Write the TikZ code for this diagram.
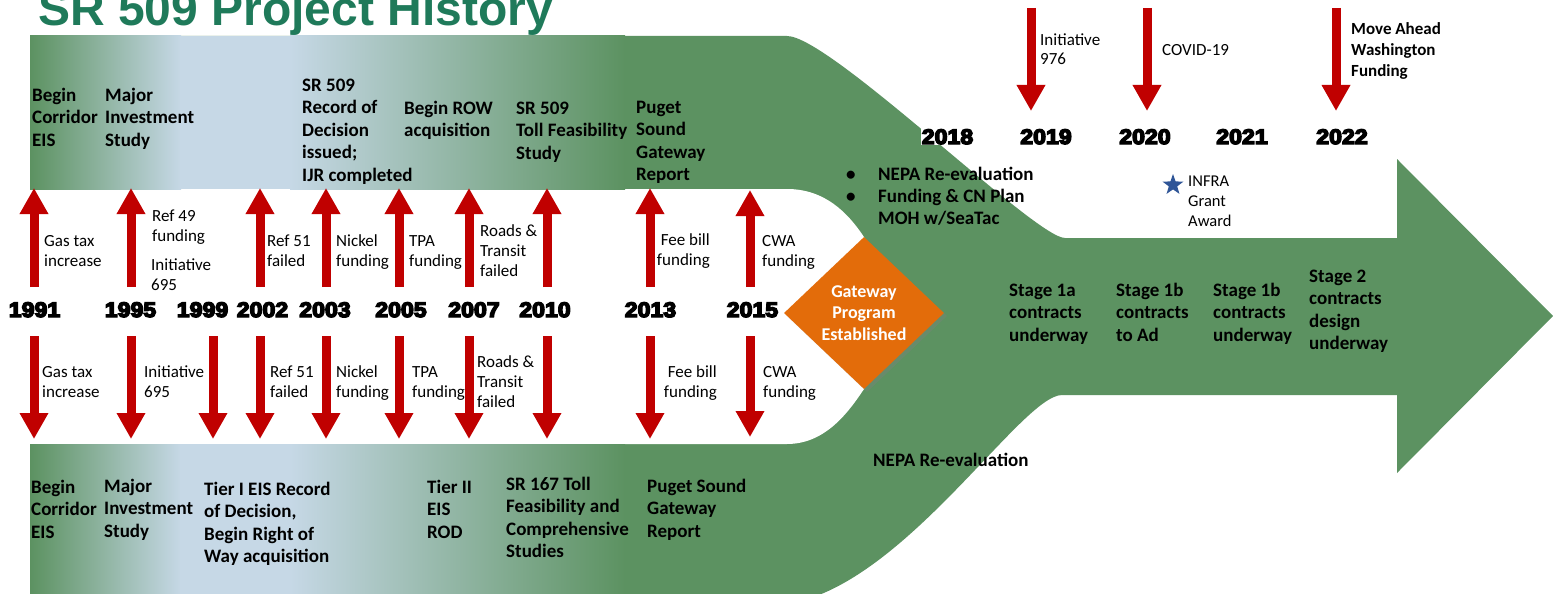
\documentclass[tikz,border=0pt]{standalone}
\usepackage{fontspec}
\setmainfont{Carlito}
\newfontfamily\titlefont{Liberation Sans}
\newfontfamily\yearfont[FakeBold=7,FakeStretch=1.1]{Liberation Sans Bold}
\usetikzlibrary{arrows.meta,shapes.geometric,shadows}
\definecolor{bandgreen}{RGB}{92,146,97}
\definecolor{paleblue}{RGB}{198,216,230}
\definecolor{arrowred}{RGB}{192,0,0}
\definecolor{gworange}{RGB}{227,108,10}
\definecolor{starblue}{RGB}{47,85,151}
\definecolor{titlegreen}{RGB}{31,122,90}
\begin{document}
\begin{tikzpicture}[x=1pt,y=-1pt,
  band/.style={anchor=base west, align=left, inner sep=0pt, font=\fontsize{19}{22.5}\selectfont\bfseries},
  lbl/.style={anchor=base west, align=left, inner sep=0pt, font=\fontsize{17}{20}\selectfont},
  yr/.style={anchor=base, fill=white, inner sep=1pt, font=\yearfont\fontsize{21}{24}\selectfont},
  redarr/.style={draw=arrowred, line width=9pt, -{Triangle[length=26pt,width=27pt]}}]
\clip (0,0) rectangle (1553,594);
\fill[white] (0,0) rectangle (1553,594);
\fill[bandgreen] (30,36) -- (787,36) .. controls (830,36) and (1035,238) .. (1065,238) -- (1397,238) -- (1397,159) -- (1553,316) -- (1397,473) -- (1397,395) -- (1062,395) .. controls (1020,395) and (895,600) .. (775,605) -- (30,605) -- cycle;
\fill[white] (30,189) -- (787,189) .. controls (825,189) and (848,213) .. (864,237) -- (900,313) -- (864,389) .. controls (848,413) and (825,444) .. (787,444) -- (30,444) -- cycle;
\shade[left color=bandgreen, right color=paleblue] (30,36) rectangle (181,189);
\fill[paleblue] (180,36) rectangle (291,189);
\shade[left color=paleblue, right color=bandgreen] (290,36) rectangle (625,189);
\shade[left color=bandgreen, right color=paleblue] (30,444) rectangle (181,605);
\fill[paleblue] (180,444) rectangle (291,605);
\shade[left color=paleblue, right color=bandgreen] (290,444) rectangle (625,605);
\node[anchor=base west, inner sep=0pt, text=titlegreen, font=\titlefont\bfseries\fontsize{48}{50}\selectfont] (title) at (38,26) {SR 509 Project History};
\node[diamond, fill=gworange, minimum width=160pt, minimum height=152pt, inner sep=0pt, align=center, text=white, font=\fontsize{18}{21.5}\selectfont\bfseries, drop shadow={shadow xshift=3pt, shadow yshift=-3pt, opacity=0.35}] (gw) at (864,313) {Gateway\\Program\\Established};
\coordinate (u1) at (34,287); \coordinate (u1h) at (34,188);
\coordinate (u2) at (131,287); \coordinate (u2h) at (131,188);
\coordinate (u3) at (260,287); \coordinate (u3h) at (260,188);
\coordinate (u4) at (326,287); \coordinate (u4h) at (326,188);
\coordinate (u5) at (399,287); \coordinate (u5h) at (399,188);
\coordinate (u6) at (469,287); \coordinate (u6h) at (469,188);
\coordinate (u7) at (547,287); \coordinate (u7h) at (547,188);
\coordinate (u8) at (650,287); \coordinate (u8h) at (650,188);
\coordinate (u9) at (750,287); \coordinate (u9h) at (750,190);
\draw[redarr] (u1) -- (u1h);
\draw[redarr] (u2) -- (u2h);
\draw[redarr] (u3) -- (u3h);
\draw[redarr] (u4) -- (u4h);
\draw[redarr] (u5) -- (u5h);
\draw[redarr] (u6) -- (u6h);
\draw[redarr] (u7) -- (u7h);
\draw[redarr] (u8) -- (u8h);
\draw[redarr] (u9) -- (u9h);
\coordinate (d1) at (34,336); \coordinate (d1h) at (34,439);
\coordinate (d2) at (131,336); \coordinate (d2h) at (131,439);
\coordinate (d3) at (213,336); \coordinate (d3h) at (213,439);
\coordinate (d4) at (260,336); \coordinate (d4h) at (260,439);
\coordinate (d5) at (326,336); \coordinate (d5h) at (326,439);
\coordinate (d6) at (399,336); \coordinate (d6h) at (399,439);
\coordinate (d7) at (469,336); \coordinate (d7h) at (469,439);
\coordinate (d8) at (547,336); \coordinate (d8h) at (547,439);
\coordinate (d9) at (650,336); \coordinate (d9h) at (650,439);
\coordinate (d10) at (750,336); \coordinate (d10h) at (750,437);
\draw[redarr] (d1) -- (d1h);
\draw[redarr] (d2) -- (d2h);
\draw[redarr] (d3) -- (d3h);
\draw[redarr] (d4) -- (d4h);
\draw[redarr] (d5) -- (d5h);
\draw[redarr] (d6) -- (d6h);
\draw[redarr] (d7) -- (d7h);
\draw[redarr] (d8) -- (d8h);
\draw[redarr] (d9) -- (d9h);
\draw[redarr] (d10) -- (d10h);
\coordinate (t1) at (1031,8); \coordinate (t1h) at (1031,111);
\coordinate (t2) at (1147,8); \coordinate (t2h) at (1147,111);
\coordinate (t3) at (1336,8); \coordinate (t3h) at (1336,111);
\draw[redarr] (t1) -- (t1h);
\draw[redarr] (t2) -- (t2h);
\draw[redarr] (t3) -- (t3h);
\node[yr] (y1991) at (34.5,317) {1991};
\node[yr] (y1995) at (130.5,317) {1995};
\node[yr] (y1999) at (202.5,317) {1999};
\node[yr] (y2002) at (262.5,317) {2002};
\node[yr] (y2003) at (325,317) {2003};
\node[yr] (y2005) at (401,317) {2005};
\node[yr] (y2007) at (474,317) {2007};
\node[yr] (y2010) at (545,317) {2010};
\node[yr] (y2013) at (650.5,317) {2013};
\node[yr] (y2015) at (752.5,317) {2015};
\node[yr] (y2018) at (947.5,144) {2018};
\node[yr] (y2019) at (1046,144) {2019};
\node[yr] (y2020) at (1145,144) {2020};
\node[yr] (y2021) at (1242,144) {2021};
\node[yr] (y2022) at (1342,144) {2022};
\node[band] (ub1) at (32,146) {Begin\\Corridor\\EIS};
\node[band] (ub2) at (105,146) {Major\\Investment\\Study};
\node[band] (ub3) at (302,181) {SR 509\\Record of\\Decision\\issued;\\IJR completed};
\node[band] (ub4) at (404,136.5) {Begin ROW\\acquisition};
\node[band] (ub5) at (516,159) {SR 509\\Toll Feasibility\\Study};
\node[band] (ub6) at (636,180.5) {Puget\\Sound\\Gateway\\Report};
\node[band] (lb1) at (31,538) {Begin\\Corridor\\EIS};
\node[band] (lb2) at (104,537) {Major\\Investment\\Study};
\node[band] (lb3) at (204,562.5) {Tier I EIS Record\\of Decision,\\Begin Right of\\Way acquisition};
\node[band] (lb4) at (427,538) {Tier II\\EIS\\ROD};
\node[band] (lb5) at (506,557.5) {SR 167 Toll\\Feasibility and\\Comprehensive\\Studies};
\node[band] (lb6) at (647,537) {Puget Sound\\Gateway\\Report};
\node[band] (lb7) at (873,466) {NEPA Re-evaluation};
\node[band] (bu1) at (846,180) {•};
\node[band] (rb1) at (878,180) {NEPA Re-evaluation};
\node[band] (bu2) at (846,202) {•};
\node[band] (rb2) at (878,224.5) {Funding \& CN Plan\\MOH w/SeaTac};
\node[band] (s1) at (1009,341) {Stage 1a\\contracts\\underway};
\node[band] (s2) at (1116,341) {Stage 1b\\contracts\\to Ad};
\node[band] (s3) at (1213,341) {Stage 1b\\contracts\\underway};
\node[band] (s4) at (1309,349.5) {Stage 2\\contracts\\design\\underway};
\node[lbl] (ul1) at (44,266) {Gas tax\\increase};
\node[lbl] (ul2) at (152,241) {Ref 49\\funding};
\node[lbl] (ul3) at (151,290) {Initiative\\695};
\node[lbl] (ul4) at (267,266) {Ref 51\\failed};
\node[lbl] (ul5) at (336,266) {Nickel\\funding};
\node[lbl] (ul6) at (409,266) {TPA\\funding};
\node[lbl] (ul7) at (480,276) {Roads \&\\Transit\\failed};
\node[lbl, anchor=base east, align=right] (ul8) at (710,265) {Fee bill\\funding};
\node[lbl] (ul9) at (762,266) {CWA\\funding};
\node[lbl] (ll1) at (42,397) {Gas tax\\increase};
\node[lbl] (ll2) at (144,397) {Initiative\\695};
\node[lbl] (ll3) at (270,397) {Ref 51\\failed};
\node[lbl] (ll4) at (336,397) {Nickel\\funding};
\node[lbl] (ll5) at (412,397) {TPA\\funding};
\node[lbl] (ll6) at (477,407) {Roads \&\\Transit\\failed};
\node[lbl, anchor=base east, align=right] (ll7) at (717,397) {Fee bill\\funding};
\node[lbl] (ll8) at (763,397) {CWA\\funding};
\node[lbl] (tl1) at (1040,65) {Initiative\\976};
\node[lbl] (tl2) at (1162,56) {COVID-19};
\node[band, font=\fontsize{17}{21}\selectfont\bfseries] (tl3) at (1351,77) {Move Ahead\\Washington\\Funding};
\node[star, star points=5, star point ratio=2.5, fill=starblue, minimum size=22pt, inner sep=0pt] (st) at (1173,185) {};
\node[lbl, font=\fontsize{16.5}{20}\selectfont] (tl4) at (1188,226) {INFRA\\Grant\\Award};
\end{tikzpicture}
\end{document}
